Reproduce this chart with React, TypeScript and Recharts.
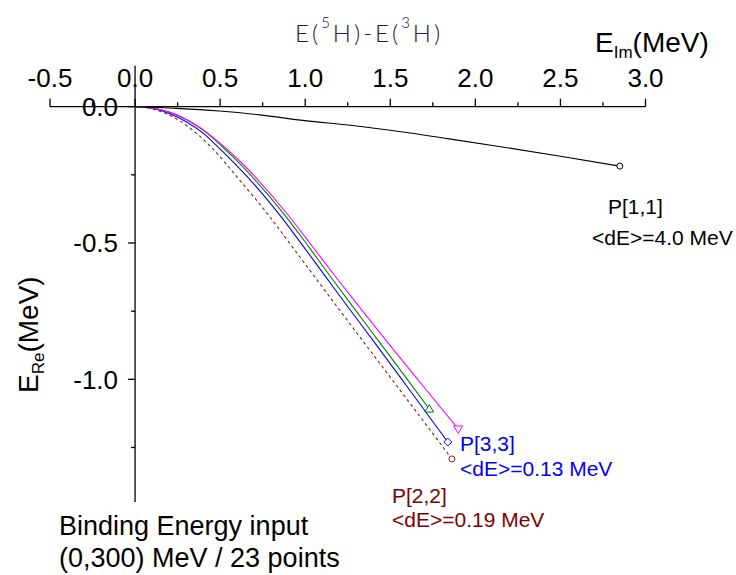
import { LineChart, Line, XAxis, YAxis, ReferenceLine, ReferenceDot } from 'recharts';

// E_Im (x) / E_Re (y) pairs, MeV
const p11X = [0, 0.245, 0.497, 0.732, 0.996, 1.277, 1.553, 1.846, 2.139, 2.491, 2.849];
const p11Y = [0, -0.006, -0.016, -0.03, -0.051, -0.069, -0.091, -0.118, -0.146, -0.181, -0.218];

const p22X = [0, 0.09, 0.175, 0.263, 0.35, 0.45, 0.605, 0.781, 0.931, 1.068, 1.207, 1.348, 1.606, 1.862];
const p22Y = [0, -0.006, -0.023, -0.052, -0.092, -0.15, -0.262, -0.395, -0.52, -0.634, -0.75, -0.867, -1.08, -1.292];

const p33X = [0, 0.1, 0.2, 0.3, 0.4, 0.478, 0.58, 0.679, 0.845, 0.99, 1.123, 1.26, 1.397, 1.618, 1.838];
const p33Y = [0, -0.006, -0.025, -0.055, -0.097, -0.142, -0.205, -0.27, -0.393, -0.513, -0.626, -0.742, -0.856, -1.043, -1.23];

const greenX = [0, 0.1, 0.2, 0.3, 0.4, 0.51, 0.61, 0.71, 0.873, 1.02, 1.16, 1.3, 1.447, 1.59, 1.729];
const greenY = [0, -0.005, -0.02, -0.047, -0.086, -0.145, -0.205, -0.272, -0.392, -0.513, -0.633, -0.75, -0.873, -0.992, -1.109];

const magentaX = [0, 0.1, 0.2, 0.3, 0.4, 0.515, 0.62, 0.723, 0.89, 1.04, 1.19, 1.34, 1.494, 1.7, 1.899];
const magentaY = [0, -0.005, -0.02, -0.046, -0.084, -0.142, -0.202, -0.269, -0.39, -0.511, -0.633, -0.752, -0.872, -1.03, -1.182];

const xMajorTicks = [-0.5, 0, 0.5, 1, 1.5, 2, 2.5, 3];
const xMinorTicks = [-0.25, 0.25, 0.75, 1.25, 1.75, 2.25, 2.75];
const yMajorTicks = [0, -0.5, -1];
const yMinorTicks = [-0.25, -0.75, -1.25];

const zip = (xs: number[], ys: number[]) => xs.map((x, i) => ({ x, y: ys[i] }));

const FONT = '"Liberation Sans", Arial, sans-serif';

const endMarker = (kind: string, color: string, n: number) => (props: any) => {
  const { cx, cy, index } = props;
  if (index !== n - 1) return <g key={`e${index}`} />;
  if (kind === 'circle')
    return <circle key="end" cx={cx} cy={cy} r={3} fill="#fff" stroke={color} strokeWidth={1} />;
  let pts = '';
  if (kind === 'up') pts = `${cx},${cy - 4.5} ${cx - 4.5},${cy + 3} ${cx + 4.5},${cy + 3}`;
  if (kind === 'down') pts = `${cx},${cy + 4.5} ${cx - 4.5},${cy - 3} ${cx + 4.5},${cy - 3}`;
  if (kind === 'diamond') pts = `${cx},${cy - 4} ${cx + 4},${cy} ${cx},${cy + 4} ${cx - 4},${cy}`;
  return <polygon key="end" points={pts} fill="#fff" stroke={color} strokeWidth={1} />;
};

const xTick = (major: boolean, v: number) => (p: any) => (
  <g>
    <line x1={p.cx} y1={p.cy} x2={p.cx} y2={p.cy - (major ? 8 : 4.5)} stroke="#000" strokeWidth={1.3} />
    {major && (
      <text x={p.cx} y={p.cy - 19.5} textAnchor="middle" fontSize={26} fontFamily={FONT} fill="#000">
        {v.toFixed(1)}
      </text>
    )}
  </g>
);

const yTick = (major: boolean, v: number) => (p: any) => (
  <g>
    <line x1={p.cx} y1={p.cy} x2={p.cx - (major ? 7 : 4)} y2={p.cy} stroke="#000" strokeWidth={1.3} />
    {major && (
      <text x={p.cx - 17} y={p.cy + 9.3} textAnchor="end" fontSize={26} fontFamily={FONT} fill="#000">
        {v.toFixed(1)}
      </text>
    )}
  </g>
);

export default function App() {
  const series = [
    { key: 'p22', data: zip(p22X, p22Y), color: '#8b1a1a', dash: '3 3', marker: 'circle' },
    { key: 'p33', data: zip(p33X, p33Y), color: '#0000ff', dash: undefined, marker: 'diamond' },
    { key: 'green', data: zip(greenX, greenY), color: '#008000', dash: undefined, marker: 'up' },
    { key: 'magenta', data: zip(magentaX, magentaY), color: '#ff00ff', dash: undefined, marker: 'down' },
    { key: 'p11', data: zip(p11X, p11Y), color: '#000000', dash: undefined, marker: 'circle' },
  ];

  return (
    <div style={{ position: 'relative', width: 736, height: 575, background: '#fff' }}>
      <style>{'body{margin:0}'}</style>
      <LineChart width={736} height={575} margin={{ top: 65.8, right: 90.5, bottom: 73, left: 50 }}>
        <XAxis type="number" dataKey="x" domain={[-0.5, 3]} allowDataOverflow hide />
        <YAxis type="number" dataKey="y" domain={[-1.45, 0.15]} allowDataOverflow hide width={0} />
        <ReferenceLine y={0} stroke="#000" strokeWidth={1.3} />
        <ReferenceLine x={0} stroke="#000" strokeWidth={1.3} />
        {xMajorTicks.map((v) => (
          <ReferenceDot key={`xM${v}`} x={v} y={0} r={0} shape={xTick(true, v)} />
        ))}
        {xMinorTicks.map((v) => (
          <ReferenceDot key={`xm${v}`} x={v} y={0} r={0} shape={xTick(false, v)} />
        ))}
        {yMajorTicks.map((v) => (
          <ReferenceDot key={`yM${v}`} x={0} y={v} r={0} shape={yTick(true, v)} />
        ))}
        {yMinorTicks.map((v) => (
          <ReferenceDot key={`ym${v}`} x={0} y={v} r={0} shape={yTick(false, v)} />
        ))}
        {series.map((s) => (
          <Line
            key={s.key}
            data={s.data}
            dataKey="y"
            type="monotone"
            stroke={s.color}
            strokeWidth={1.1}
            strokeDasharray={s.dash}
            dot={endMarker(s.marker, s.color, s.data.length)}
            activeDot={false}
            isAnimationActive={false}
          />
        ))}
      </LineChart>
      <svg
        width={736}
        height={575}
        style={{ position: 'absolute', left: 0, top: 0, pointerEvents: 'none' }}
        fontFamily={FONT}
      >
        <text x={295} y={42} fontSize={24} letterSpacing={3} fill="#222" fontFamily="Lato, sans-serif" fontWeight={300}>
          E(<tspan dy={-14} fontSize={15}>5</tspan>
          <tspan dy={14}>H)-E(</tspan>
          <tspan dy={-14} fontSize={15}>3</tspan>
          <tspan dy={14}>H)</tspan>
        </text>
        <text x={595} y={52} fontSize={28} fill="#000">
          E<tspan dy={6} fontSize={17}>Im</tspan>
          <tspan dy={-6}>(MeV)</tspan>
        </text>
        <text transform="translate(38,393) rotate(-90)" fontSize={28} fill="#000">
          E<tspan dy={6} fontSize={17}>Re</tspan>
          <tspan dy={-6}>(MeV)</tspan>
        </text>
        <text x={608} y={214} fontSize={21} fill="#000">P[1,1]</text>
        <text x={592} y={245} fontSize={21} fill="#000">{'<dE>=4.0 MeV'}</text>
        <text x={460} y={451} fontSize={21} fill="#0000ff">P[3,3]</text>
        <text x={460} y={476} fontSize={21} fill="#0000ff">{'<dE>=0.13 MeV'}</text>
        <text x={392} y={503} fontSize={21} fill="#800000">P[2,2]</text>
        <text x={392} y={527} fontSize={21} fill="#800000">{'<dE>=0.19 MeV'}</text>
        <text x={59} y={535} fontSize={27} fill="#000">Binding Energy input</text>
        <text x={59} y={567} fontSize={27} fill="#000">(0,300) MeV / 23 points</text>
      </svg>
    </div>
  );
}
